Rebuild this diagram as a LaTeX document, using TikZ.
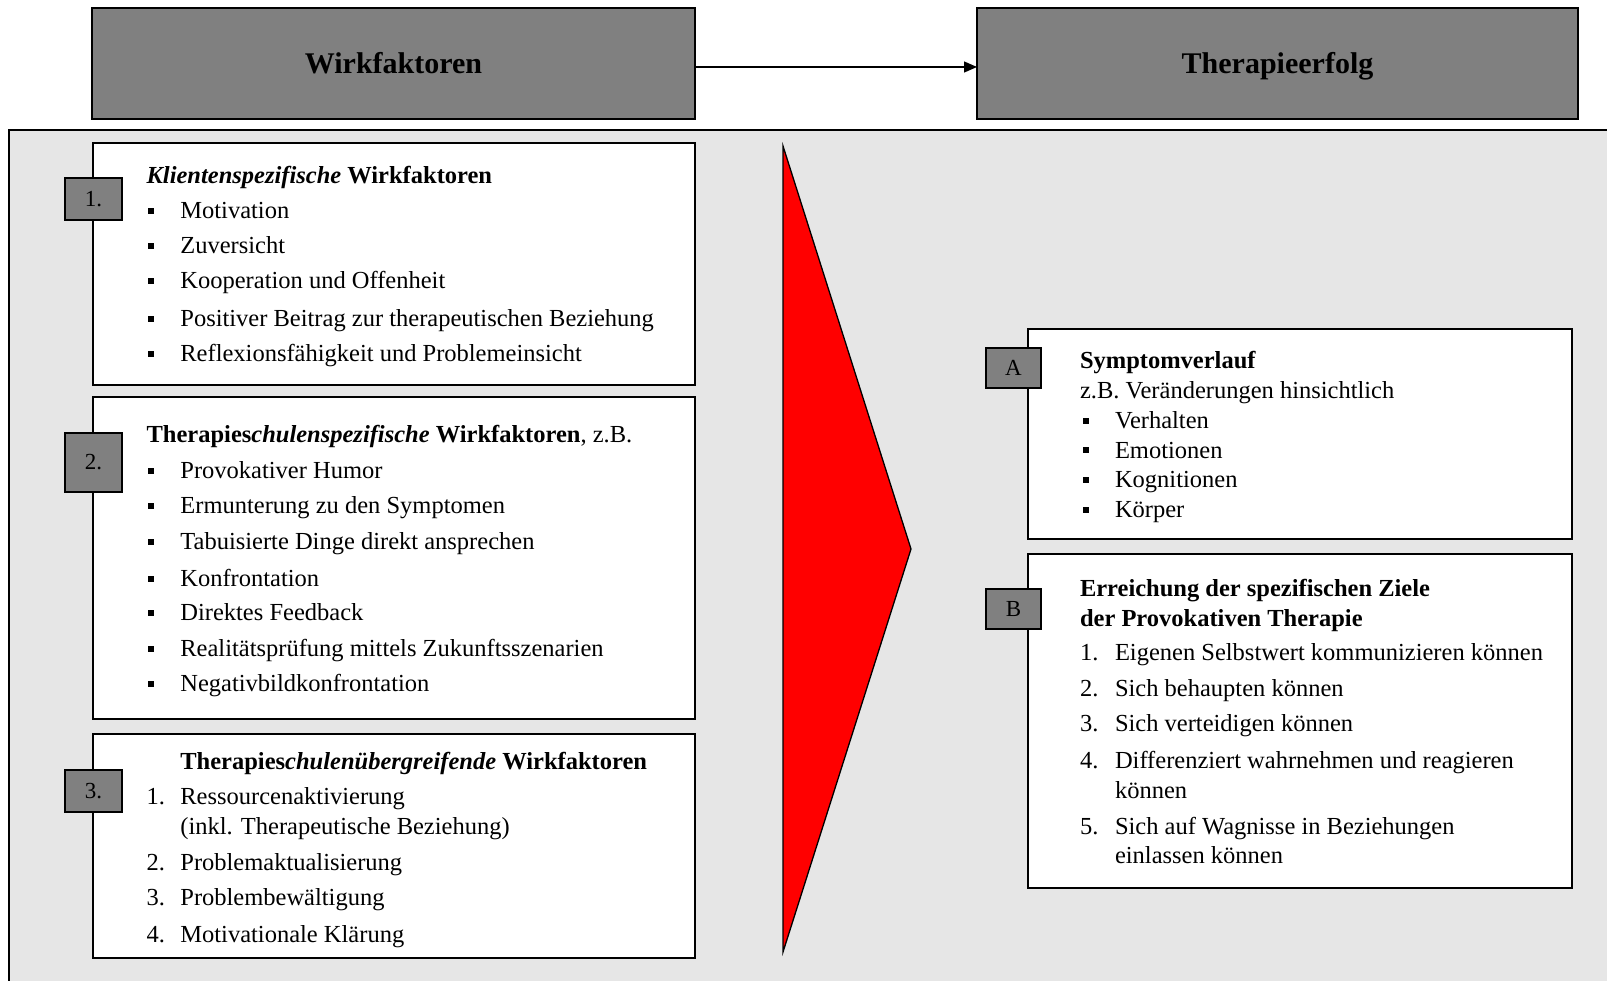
\documentclass[tikz,border=0pt]{standalone}
\usepackage{fontspec}
\setmainfont{Liberation Serif}
\usetikzlibrary{arrows.meta}
\definecolor{panelgray}{HTML}{E6E6E6}
\definecolor{boxgray}{HTML}{808080}
\definecolor{wedgered}{HTML}{FF0000}

\begin{document}
\begin{tikzpicture}[x=1pt,y=-1pt,
  every node/.style={inner sep=0pt, outer sep=0pt},
  header/.style={draw=black, line width=1.5pt, fill=boxgray, anchor=north west,
    text height=20pt, text depth=0pt,
    font=\fontsize{30}{36}\selectfont\bfseries},
  card/.style={draw=black, line width=1.3pt, fill=white, anchor=north west},
  tag/.style={draw=black, line width=1.3pt, fill=boxgray, anchor=north west,
    text height=15pt, text depth=0pt,
    font=\fontsize{23}{27}\selectfont},
  txt/.style={anchor=base west, font=\fontsize{24.5}{29}\selectfont},
  bul/.style={fill=black, minimum size=6pt, anchor=center},
]
\useasboundingbox (0,0) rectangle (1607,981);
\clip (0,0) rectangle (1607,981);

% background panel
\fill[panelgray] (9,130) rectangle (1620,1000);
\draw[line width=1.5pt] (1620,130) -- (9,130) -- (9,1000);

% headers
\node[header, minimum width=603pt, minimum height=111pt] (wf) at (92,8) {Wirkfaktoren};
\node[header, minimum width=601pt, minimum height=111pt] (te) at (977,8) {Therapieerfolg};
\draw[line width=1.3pt, -{Triangle[length=13pt,width=11pt]}]
  ([yshift=-3.5pt]wf.east) -- ([yshift=-3.5pt]te.west);

% red wedge
\draw[line width=1.3pt, fill=wedgered] (783,146) -- (911,549) -- (783,952) -- cycle;

% cards
\node[card, minimum width=602pt, minimum height=242pt] (c1) at (93,143) {};
\node[card, minimum width=602pt, minimum height=322pt] (c2) at (93,397) {};
\node[card, minimum width=602pt, minimum height=224pt] (c3) at (93,734) {};
\node[card, minimum width=544pt, minimum height=210pt] (ca) at (1028,329) {};
\node[card, minimum width=544pt, minimum height=334pt] (cb) at (1028,554) {};

% tags
\node[tag, minimum width=57pt, minimum height=42pt] (t1) at (65,178) {1.};
\node[tag, minimum width=57pt, minimum height=59pt] (t2) at (65,433) {2.};
\node[tag, minimum width=57pt, minimum height=42pt] (t3) at (65,770) {3.};
\node[tag, minimum width=55pt, minimum height=40pt] (ta) at (986,348) {A};
\node[tag, minimum width=55pt, minimum height=40pt] (tb) at (986,589) {B};

% card 1
\node[txt] (h1) at (146.6,183.3) {\bfseries\itshape Klientenspezifische \upshape Wirkfaktoren};
\foreach \yy/\tt [count=\i] in {219/Motivation, 254/Zuversicht,
    289/Kooperation und Offenheit,
    327/Positiver Beitrag zur therapeutischen Beziehung,
    362/Reflexionsfähigkeit und Problemeinsicht}{
  \node[bul] (k\i b) at (151,\yy-7.5) {};
  \node[txt] (k\i) at (180.4,\yy) {\tt};
}

% card 2
\node[txt] (h2) at (146.6,442.6) {\textbf{Therapies\textit{chulenspezifische} Wirkfaktoren}, z.B.};
\foreach \yy/\tt [count=\i] in {478.4/Provokativer Humor,
    513.3/Ermunterung zu den Symptomen,
    549.1/Tabuisierte Dinge direkt ansprechen,
    586/Konfrontation,
    620.9/Direktes Feedback,
    656.8/Realitätsprüfung mittels Zukunftsszenarien,
    691.6/Negativbildkonfrontation}{
  \node[bul] (s\i b) at (151,\yy-7.5) {};
  \node[txt] (s\i) at (180.4,\yy) {\tt};
}

% card 3
\node[txt] (h3) at (180.4,769.5) {\textbf{Therapies\textit{chulenübergreifende} Wirkfaktoren}};
\node[txt] (u1n) at (146.6,804.3) {1.};
\node[txt] (u1) at (180.4,804.3) {Ressourcenaktivierung};
\node[txt] (u1c) at (180.4,834) {(inkl. Therapeutische Beziehung)};
\node[txt] (u2n) at (146.6,870) {2.};
\node[txt] (u2) at (180.4,870) {Problemaktualisierung};
\node[txt] (u3n) at (146.6,905.8) {3.};
\node[txt] (u3) at (180.4,905.8) {Problembewältigung};
\node[txt] (u4n) at (146.6,942.7) {4.};
\node[txt] (u4) at (180.4,942.7) {Motivationale Klärung};

% card A
\node[txt] (ha) at (1080,368.8) {\bfseries Symptomverlauf};
\node[txt] (ha2) at (1080,398.5) {z.B. Veränderungen hinsichtlich};
\foreach \yy/\tt [count=\i] in {428.2/Verhalten, 458/Emotionen,
    487.7/Kognitionen, 517.4/Körper}{
  \node[bul] (a\i b) at (1086.4,\yy-7.5) {};
  \node[txt] (a\i) at (1115,\yy) {\tt};
}

% card B
\node[txt] (hb) at (1080,596.3) {\bfseries Erreichung der spezifischen Ziele};
\node[txt] (hb2) at (1080,626) {\bfseries der Provokativen Therapie};
\node[txt] (b1n) at (1080,660.9) {1.};
\node[txt] (b1) at (1115,660.9) {Eigenen Selbstwert kommunizieren können};
\node[txt] (b2n) at (1080,696.7) {2.};
\node[txt] (b2) at (1115,696.7) {Sich behaupten können};
\node[txt] (b3n) at (1080,731.6) {3.};
\node[txt] (b3) at (1115,731.6) {Sich verteidigen können};
\node[txt] (b4n) at (1080,768.5) {4.};
\node[txt] (b4) at (1115,768.5) {Differenziert wahrnehmen und reagieren};
\node[txt] (b4c) at (1115,798.2) {können};
\node[txt] (b5n) at (1080,834) {5.};
\node[txt] (b5) at (1115,834) {Sich auf Wagnisse in Beziehungen};
\node[txt] (b5c) at (1115,863.8) {einlassen können};
\end{tikzpicture}
\end{document}
